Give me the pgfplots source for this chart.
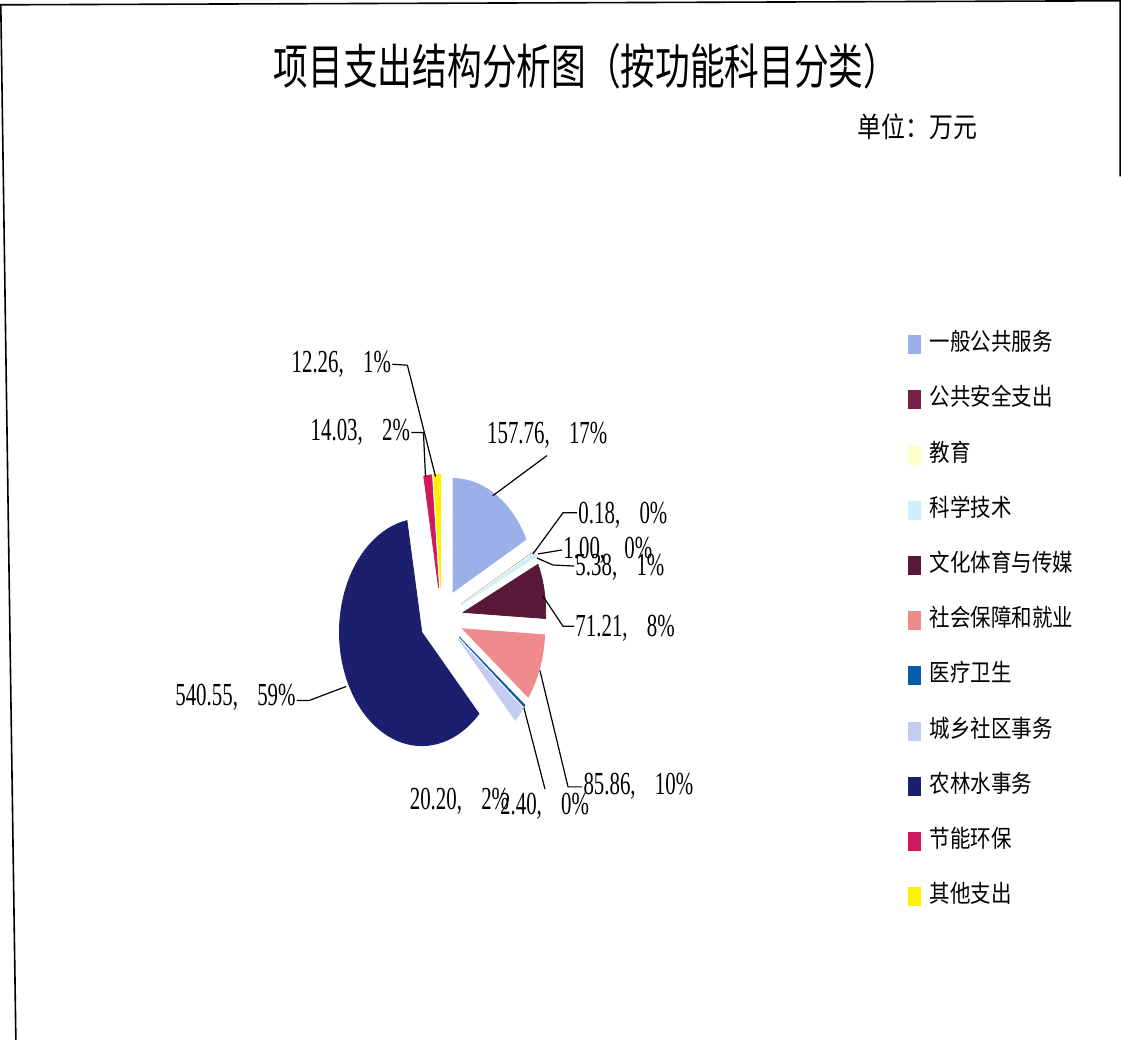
\documentclass[border=0pt]{standalone}
\usepackage{pgfplots}
\usepackage{pgfplotstable}
\pgfplotsset{compat=1.18}
\usepackage{fontspec}
\newfontfamily\cjkt[FakeStretch=0.72]{Noto Sans CJK SC}
\newfontfamily\cjkn[FakeStretch=0.85]{Noto Sans CJK SC}
\newfontfamily\numfont[FakeStretch=0.65]{Liberation Serif}

\definecolor{c1}{HTML}{9BAFE8}
\definecolor{c2}{HTML}{7A1F45}
\definecolor{c3}{HTML}{FFFFCC}
\definecolor{c4}{HTML}{CCF0FF}
\definecolor{c5}{HTML}{5A1838}
\definecolor{c6}{HTML}{F08A8C}
\definecolor{c7}{HTML}{0A5AAA}
\definecolor{c8}{HTML}{C4CCF2}
\definecolor{c9}{HTML}{1B1F6E}
\definecolor{c10}{HTML}{D0185C}
\definecolor{c11}{HTML}{FFF000}

% project spending by function (10k yuan), clockwise from 12 o'clock
\pgfplotstableread{
val col
157.76 c1
0.18 c2
1.00 c3
5.38 c4
71.21 c5
85.86 c6
2.40 c7
20.20 c8
540.55 c9
14.03 c10
12.26 c11
}\pietable

\begin{document}
\begin{tikzpicture}
% sum of the slices
\def\total{0}
\pgfplotsforeachungrouped \i in {0,...,10}{%
  \pgfplotstablegetelem{\i}{val}\of\pietable
  \pgfmathsetmacro\total{\total+\pgfplotsretval}}
\begin{axis}[
    x=0.5pt, y=0.5pt,
    xmin=0, xmax=1121, ymin=0, ymax=1045,
    hide axis, clip=false,
    legend entries={一般公共服务,公共安全支出,教育,科学技术,文化体育与传媒,社会保障和就业,医疗卫生,城乡社区事务,农林水事务,节能环保,其他支出},
    legend style={at={(axis cs:900,709)}, anchor=north west, draw=none, fill=none,
        font=\cjkn\fontsize{12}{14}\selectfont, row sep=15.5pt, column sep=4.5pt,
        nodes={inner sep=0pt, text height=9pt, text depth=3pt}},
    legend cell align=left,
    legend image code/.code={\fill[#1] (0pt,-4.5pt) rectangle (6pt,4.5pt);},
]
\def\cum{0}
\pgfplotsforeachungrouped \i in {0,...,10}{%
  \pgfplotstablegetelem{\i}{val}\of\pietable \let\sliceval\pgfplotsretval
  \pgfplotstablegetelem{\i}{col}\of\pietable \let\slicecol\pgfplotsretval
  \pgfmathsetmacro\angA{\cum/\total*360}
  \pgfmathsetmacro\angB{(\cum+\sliceval)/\total*360}
  \pgfmathsetmacro\angM{(\angA+\angB)/2}
  \pgfmathsetmacro\vx{442+0.27*82*sin(\angM)}
  \pgfmathsetmacro\vy{420+0.27*113*cos(\angM)}
  \edef\doslice{\noexpand\addplot[fill=\slicecol, draw=\slicecol, line width=0.4pt,
      domain=\angA:\angB, samples=60]
      ({\vx+82*sin(x)},{\vy+113*cos(x)}) -- (axis cs:\vx,\vy) -- cycle;}
  \doslice
  \pgfmathsetmacro\cum{\cum+\sliceval}
}

% frame
\draw[line width=0.8pt] (axis cs:18,0) -- (axis cs:3,1031) -- (axis cs:1118,1035) -- (axis cs:1118,860);

% title and unit
\node[font=\cjkt\fontsize{24}{28}\selectfont] at (axis cs:586,970) {项目支出结构分析图（按功能科目分类）};
\node[font=\cjkn\fontsize{14}{16}\selectfont, anchor=west, inner sep=0pt] at (axis cs:856,910) {单位：万元};

% data labels
\tikzset{lab/.style={font=\numfont\fontsize{16}{18}\selectfont, inner sep=0pt}}
\node[lab, anchor=east] at (axis cs:392,673) {12.26,\hspace{0.6em}1\%};
\node[lab, anchor=east] at (axis cs:411,605) {14.03,\hspace{0.6em}2\%};
\node[lab, anchor=west] at (axis cs:487,602) {157.76,\hspace{0.6em}17\%};
\node[lab, anchor=west] at (axis cs:578,523) {0.18,\hspace{0.6em}0\%};
\node[lab, anchor=west] at (axis cs:563,488) {1.00,\hspace{0.6em}0\%};
\node[lab, anchor=west] at (axis cs:575,471) {5.38,\hspace{0.6em}1\%};
\node[lab, anchor=west] at (axis cs:575,410) {71.21,\hspace{0.6em}8\%};
\node[lab, anchor=west] at (axis cs:583,253) {85.86,\hspace{0.6em}10\%};
\node[lab, anchor=west] at (axis cs:410,238) {20.20,\hspace{0.6em}2\%};
\node[lab, anchor=west] at (axis cs:500,233) {2.40,\hspace{0.6em}0\%};
\node[lab, anchor=east] at (axis cs:297,341) {540.55,\hspace{0.6em}59\%};

% leader lines
\begin{scope}[line width=0.6pt]
\draw (axis cs:393,673) -- (axis cs:408,672) -- (axis cs:436,561);
\draw (axis cs:412,605) -- (axis cs:424,605) -- (axis cs:426,561);
\draw (axis cs:547,582) -- (axis cs:493,542);
\draw (axis cs:577,525) -- (axis cs:563,525) -- (axis cs:533,484);
\draw (axis cs:562,488) -- (axis cs:538,484);
\draw (axis cs:574,472) -- (axis cs:553,473) -- (axis cs:537,480);
\draw (axis cs:574,412) -- (axis cs:563,412) -- (axis cs:543,442);
\draw (axis cs:582,252) -- (axis cs:568,252) -- (axis cs:540,368);
\draw (axis cs:524,331) -- (axis cs:545,250);
\draw (axis cs:298,338) -- (axis cs:310,338) -- (axis cs:347,352);
\end{scope}
\end{axis}
\end{tikzpicture}
\end{document}
